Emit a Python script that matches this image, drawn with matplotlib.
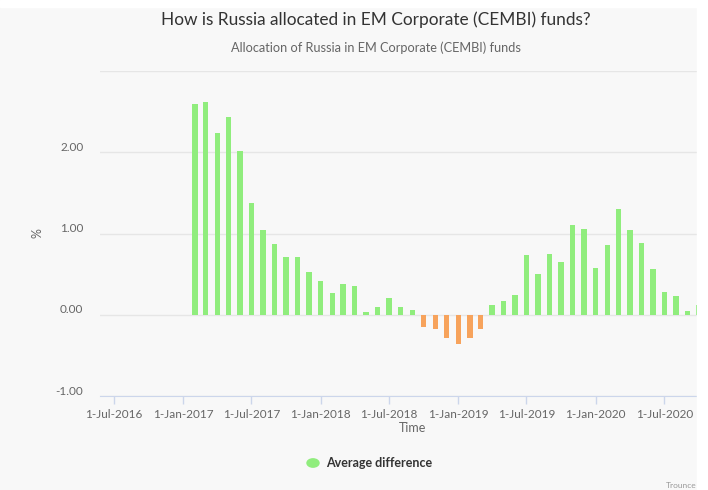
import numpy as np
import pandas as pd
import matplotlib
matplotlib.use("Agg")
import matplotlib.pyplot as plt
import matplotlib.dates as mdates
import matplotlib.transforms as mtrans
from matplotlib.patches import Rectangle

plt.rcParams['font.family'] = ['Lato', 'DejaVu Sans']

# monthly average difference, Feb 2017 .. Oct 2020
months = pd.date_range('2017-02-01', periods=45, freq='MS')
avg_diff = [2.60, 2.62, 2.24, 2.43, 2.02, 1.38, 1.04, 0.87, 0.71, 0.71,
            0.53, 0.41, 0.27, 0.38, 0.35, 0.03, 0.10, 0.21, 0.10, 0.06,
            -0.15, -0.17, -0.28, -0.36, -0.29, -0.18, 0.12, 0.17, 0.24, 0.73,
            0.50, 0.75, 0.65, 1.11, 1.06, 0.58, 0.86, 1.30, 1.04, 0.88,
            0.56, 0.28, 0.23, 0.05, 0.12]
tick_dates = pd.date_range('2016-07-01', '2020-07-01', freq='6MS')
y_ticks = [-1, 0, 1, 2, 3]
y_labels = ['-1.00', '0.00', '1.00', '2.00', '']

W, H = 708, 490
bg = '#f8f8f8'
pos_col = '#90ed7d'
neg_col = '#f7a35c'

fig = plt.figure(figsize=(W / 100, H / 100), dpi=100, facecolor=bg)
# plot area runs on past the visible edge (chart is cut off on the right)
ax = fig.add_axes([100 / W, 1 - 396 / H, 626 / W, 325 / H])
ax.set_facecolor(bg)

vals = np.array(avg_diff)
colors = [pos_col if v >= 0 else neg_col for v in vals]
ax.bar(months, vals, width=14, color=colors, zorder=3)

ax.set_xlim(pd.Timestamp('2016-05-25'), pd.Timestamp('2020-12-12'))
ax.set_ylim(-1, 3)
ax.set_yticks(y_ticks)
ax.set_yticklabels(y_labels)
ax.yaxis.grid(True, color='#e6e6e6', lw=1, zorder=0)
ax.tick_params(axis='y', length=0, pad=12, labelsize=8.5, labelcolor='#666666')
off = mtrans.ScaledTranslation(0, 6 / 100, fig.dpi_scale_trans)
for lab in ax.get_yticklabels():
    lab.set_transform(lab.get_transform() + off)

ax.set_xticks(tick_dates)
ax.xaxis.set_major_formatter(mdates.DateFormatter('1-%b-%Y'))
ax.tick_params(axis='x', length=6, width=1, color='#ccd6eb', pad=3,
               labelsize=8.5, labelcolor='#666666')

for s in ['top', 'right', 'left']:
    ax.spines[s].set_visible(False)
ax.spines['bottom'].set_color('#ccd6eb')

fig.text(37 / W, 1 - 233 / H, '%', ha='center', va='center', rotation=90,
         color='#666666', fontsize=9)
fig.text(413 / W, 1 - 428 / H, 'Time', ha='center', va='center',
         color='#666666', fontsize=9)

fig.text(376 / W, 1 - 20 / H, 'How is Russia allocated in EM Corporate (CEMBI) funds?',
         ha='center', va='center', color='#333333', fontsize=12.4)
fig.text(376 / W, 1 - 48 / H, 'Allocation of Russia in EM Corporate (CEMBI) funds',
         ha='center', va='center', color='#666666', fontsize=9.2)

# legend
fig.patches.append(plt.Circle((313 / W, 1 - 463 / H), 0.0085, color=pos_col,
                              transform=fig.transFigure, figure=fig))
fig.text(326 / W, 1 - 463 / H, 'Average difference', ha='left', va='center',
         color='#333333', fontsize=9, fontweight='bold')

fig.text(696 / W, 1 - 485 / H, 'Trounce', ha='right', va='center',
         color='#999999', fontsize=6)

# white strips at the top and right edge
fig.patches.append(Rectangle((697 / W, 0), 11 / W, 1, transform=fig.transFigure,
                             color='white', zorder=10, figure=fig))
fig.patches.append(Rectangle((0, 1 - 7 / H), 1, 7 / H, transform=fig.transFigure,
                             color='white', zorder=10, figure=fig))

fig.savefig('out.png', dpi=100, facecolor=bg)
